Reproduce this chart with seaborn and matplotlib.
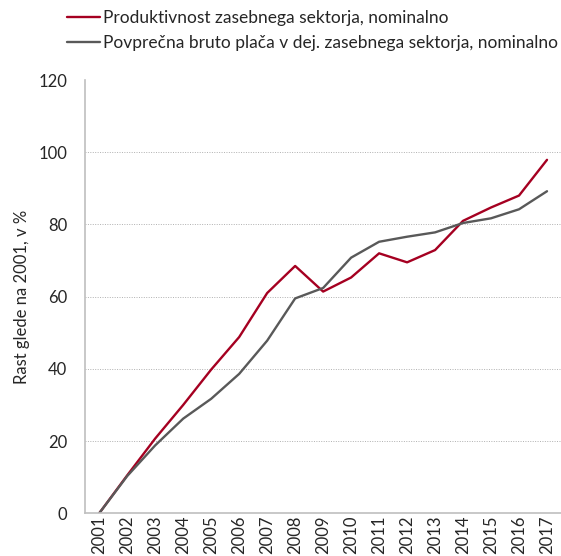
import pandas as pd
import matplotlib.pyplot as plt
import seaborn as sns

leta = [str(l) for l in range(2001, 2018)]
produktivnost = [0, 10.5, 20.7, 30.0, 39.8, 48.8, 61.0, 68.5, 61.4, 65.3, 72.0, 69.5, 72.9, 81.0, 84.7, 88.0, 97.9]
placa = [0, 10.3, 18.8, 26.2, 31.7, 38.6, 47.8, 59.5, 62.4, 70.8, 75.2, 76.6, 77.8, 80.4, 81.7, 84.2, 89.2]
ime_p = "Produktivnost zasebnega sektorja, nominalno"
ime_c = "Povprečna bruto plača v dej. zasebnega sektorja, nominalno"

veri = pd.DataFrame({
    "leto": leta * 2,
    "vrednost": produktivnost + placa,
    "serija": [ime_p] * len(leta) + [ime_c] * len(leta),
})

sns.set_style("white")
plt.rcParams["font.family"] = ["Lato", "DejaVu Sans"]

fig = plt.figure(figsize=(5.61, 5.56), dpi=100)
ax = fig.add_axes([0.152, 0.077, 0.848, 0.779])
sns.lineplot(data=veri, x="leto", y="vrednost", hue="serija", sort=False,
             palette={ime_p: "#a50021", ime_c: "#595959"}, linewidth=1.7, ax=ax)

ax.set_xlim(-0.5, 16.5)
ax.set_ylim(0, 120)
ax.set_yticks(range(0, 121, 20))
ax.tick_params(axis="x", labelrotation=90, labelsize=12, length=0, pad=2)
ax.tick_params(axis="y", labelsize=12, length=0, pad=13)
ax.set_xlabel("")
ax.set_ylabel("Rast glede na 2001, v %", fontsize=12, labelpad=6)
for y in range(20, 101, 20):
    ax.axhline(y, color="#b0b0b0", linestyle=(0, (1, 1.5)), linewidth=0.7, zorder=0)
for s in ["top", "right"]:
    ax.spines[s].set_visible(False)
for s in ["left", "bottom"]:
    ax.spines[s].set_color("#bfbfbf")
    ax.spines[s].set_linewidth(1.2)

h, l = ax.get_legend_handles_labels()
ax.get_legend().remove()
fig.legend(h, l, loc="upper left", bbox_to_anchor=(0.107, 0.995), frameon=False,
           fontsize=12.5, handlelength=1.9, handletextpad=0.2, labelspacing=0.55,
           borderaxespad=0)

plt.savefig("out.png", dpi=100)
